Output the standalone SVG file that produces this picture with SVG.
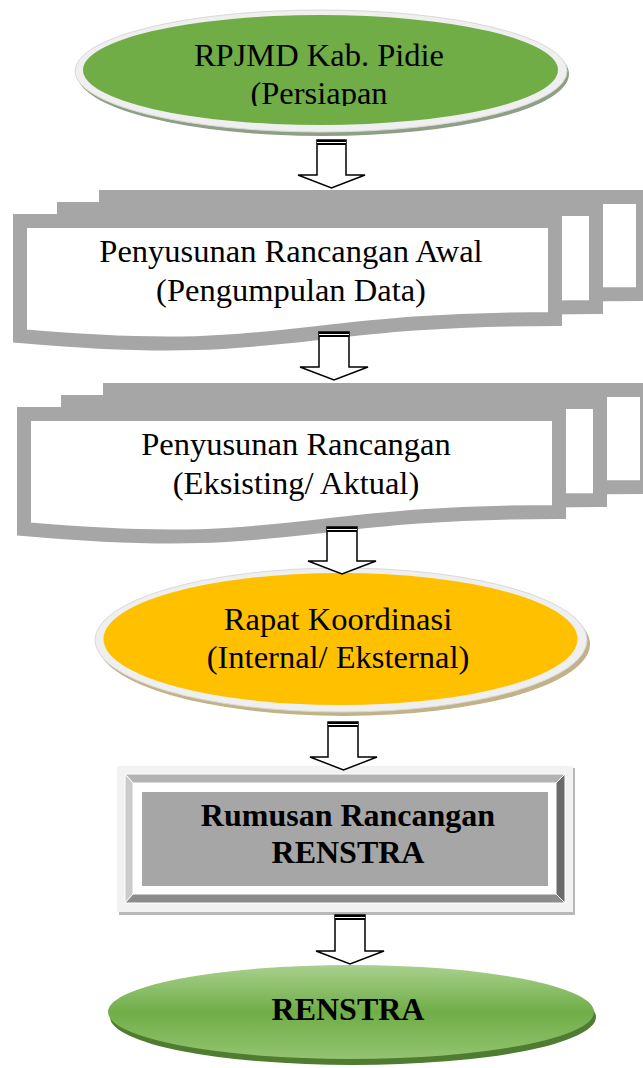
<svg xmlns="http://www.w3.org/2000/svg" width="643" height="1068" viewBox="0 0 643 1068">
<style>
.t{font-family:"Liberation Serif","Times New Roman",serif;font-size:32.5px;fill:#000;text-anchor:middle}
.b{font-weight:bold;font-size:32px}
.doc{fill:#fff;stroke:#a6a6a6;stroke-width:14;stroke-linejoin:miter}
.arr{fill:#fff;stroke:#000;stroke-width:1.5;stroke-linejoin:miter}
.ring{fill:#efefef;stroke:#d9d9d9;stroke-width:1}
</style>
<defs>
<clipPath id="c1"><rect x="0" y="0" width="643" height="106"/></clipPath>
<linearGradient id="g6" x1="0" y1="0" x2="0" y2="1">
<stop offset="0" stop-color="#a9d18e"/>
<stop offset="0.5" stop-color="#70ad47"/>
<stop offset="1" stop-color="#93c470"/>
</linearGradient>
</defs>
<rect width="643" height="1068" fill="#fff"/>

<g id="node1">
<ellipse cx="323" cy="74" rx="246" ry="62" fill="#8f9f85"/>
<ellipse class="ring" cx="321" cy="71" rx="246" ry="61"/>
<ellipse cx="320.5" cy="70" rx="237.5" ry="55" fill="#70ad47"/>
<g clip-path="url(#c1)">
<text class="t" x="319" y="66">RPJMD Kab. Pidie</text>
<text class="t" x="319" y="104">(Persiapan</text>
</g>
</g>

<g id="node2">
<path class="doc" d="M106,197 H643 V294 C375,294 375,335 106,311 Z"/>
<path class="doc" d="M64,209 H596 V307 C330,307 330,348 64,324 Z"/>
<path class="doc" d="M20,221 H555 V319 C287,319 287,360 20,336 Z"/>
<text class="t" x="291" y="262">Penyusunan Rancangan Awal</text>
<text class="t" x="291" y="301">(Pengumpulan Data)</text>
</g>

<g id="node3">
<path class="doc" d="M110,390 H647 V487 C379,487 379,528 110,504 Z"/>
<path class="doc" d="M68,402 H600 V500 C334,500 334,541 68,517 Z"/>
<path class="doc" d="M24,414 H559 V512 C291,512 291,553 24,529 Z"/>
<text class="t" x="296" y="455">Penyusunan Rancangan</text>
<text class="t" x="296" y="494">(Eksisting/ Aktual)</text>
</g>

<g id="node4">
<ellipse cx="344" cy="644" rx="246" ry="72" fill="#c2b386"/>
<ellipse class="ring" cx="341" cy="640" rx="246" ry="72"/>
<ellipse cx="340.5" cy="639" rx="237" ry="66" fill="#ffc000"/>
<text class="t" x="338" y="630">Rapat Koordinasi</text>
<text class="t" x="338" y="668">(Internal/ Eksternal)</text>
</g>

<g id="node5">
<rect x="119" y="768" width="456" height="147" fill="#b8b8b8"/>
<rect x="117" y="766" width="456" height="146" fill="#f2f2f2"/>
<polygon points="125,774 565,774 556,783 133,783" fill="#b3b3b3" stroke="#fff" stroke-width="1"/>
<polygon points="125,774 133,783 133,894 125,903" fill="#cbcbcb" stroke="#fff" stroke-width="1"/>
<polygon points="125,903 133,894 556,894 565,903" fill="#8c8c8c" stroke="#fff" stroke-width="1"/>
<polygon points="565,774 565,903 556,894 556,783" fill="#6b6b6b" stroke="#fff" stroke-width="1"/>
<rect x="133" y="783" width="423" height="111" fill="#fff"/>
<rect x="142" y="792" width="406" height="94" fill="#a6a6a6"/>
<text class="t b" x="348" y="826">Rumusan Rancangan</text>
<text class="t b" x="348" y="863">RENSTRA</text>
</g>

<g id="node6">
<ellipse cx="353" cy="1017" rx="243" ry="48" fill="#4f7c30"/>
<ellipse cx="351" cy="1012" rx="243" ry="47" fill="url(#g6)"/>
<text class="t b" x="348" y="1020">RENSTRA</text>
</g>

<g id="connectors">
<g>
<path class="arr" d="M317,140 V175 H298 L331.5,188 L365,175 H346 V140 Z"/>
<rect x="317" y="140" width="29" height="5" fill="#000"/><line x1="317" y1="142.5" x2="346" y2="142.5" stroke="#fff" stroke-width="1"/>
</g>
<g>
<path class="arr" d="M319,332 V367 H300 L334,380 L368,367 H349 V332 Z"/>
<rect x="319" y="332" width="30" height="5" fill="#000"/><line x1="319" y1="334.5" x2="349" y2="334.5" stroke="#fff" stroke-width="1"/>
</g>
<g>
<path class="arr" d="M327,527 V561 H308 L342,574 L376,561 H357 V527 Z"/>
<rect x="327" y="527" width="30" height="5" fill="#000"/><line x1="327" y1="529.5" x2="357" y2="529.5" stroke="#fff" stroke-width="1"/>
</g>
<g>
<path class="arr" d="M328,722 V757 H310 L343.5,770 L377,757 H358 V722 Z"/>
<rect x="328" y="722" width="30" height="5" fill="#000"/><line x1="328" y1="724.5" x2="358" y2="724.5" stroke="#fff" stroke-width="1"/>
</g>
<g>
<path class="arr" d="M335,915 V951 H316 L350,964 L384,951 H365 V915 Z"/>
<rect x="335" y="915" width="30" height="5" fill="#000"/><line x1="335" y1="917.5" x2="365" y2="917.5" stroke="#fff" stroke-width="1"/>
</g>
</g>
</svg>
